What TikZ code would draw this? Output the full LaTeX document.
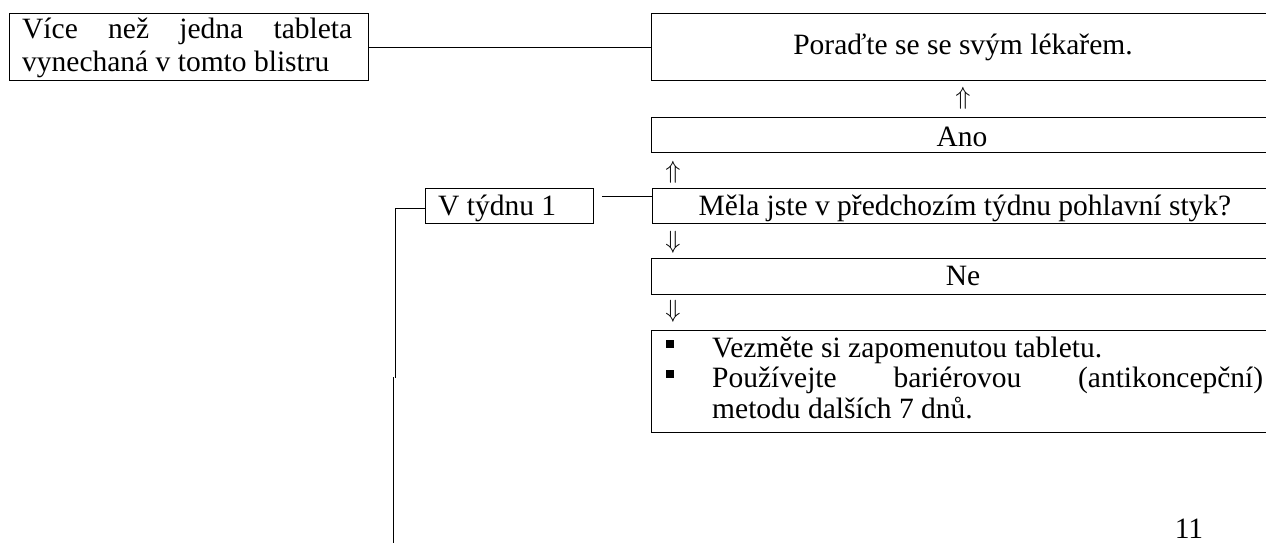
\documentclass[tikz,border=0pt]{standalone}
\usepackage{fontspec}
\setmainfont{Liberation Serif}
\begin{document}
\begin{tikzpicture}[x=1pt,y=-1pt,
  box/.style={draw, line width=1.3pt, anchor=north west, inner sep=0pt},
  txt/.style={anchor=base, inner sep=0pt, font=\fontsize{29.5}{32}\selectfont},
  arr/.style={anchor=center, inner sep=0pt, font=\fontsize{27}{29}\selectfont},
  conn/.style={line width=1pt},
  sq/.style={fill, minimum size=7.5pt, inner sep=0pt}]
\clip (0,0) rectangle (1266,542);
% boxes
\node[box, minimum width=359pt, minimum height=67pt] (b1) at (9,13) {};
\node[box, minimum width=660pt, minimum height=67pt] (poradBox) at (651,13) {};
\node[box, minimum width=660pt, minimum height=35pt] (anoBox) at (651,117) {};
\node[box, minimum width=660pt, minimum height=35pt] (qBox) at (652,188) {};
\node[box, minimum width=168pt, minimum height=35pt] (vBox) at (425,188) {};
\node[box, minimum width=660pt, minimum height=36pt] (neBox) at (651,258) {};
\node[box, minimum width=660pt, minimum height=102pt] (listBox) at (651,330) {};
% texts
\node[txt, anchor=base west] (t1a) at (22,38) {\makebox[330pt][s]{Více než jedna tableta}};
\node[txt, anchor=base west] (t1b) at (22,71) {vynechaná v tomto blistru};
\node[txt] (tPorad) at (963,54) {Poraďte se se svým lékařem.};
\node[arr] (up1) at (963,98) {$\Uparrow$};
\node[txt] (tAno) at (962,146) {Ano};
\node[arr] (up2) at (673,172) {$\Uparrow$};
\node[txt] (tQ) at (965,215) {Měla jste v předchozím týdnu pohlavní styk?};
\node[txt, anchor=base west] (tV) at (438,215) {V týdnu 1};
\node[arr] (down1) at (673,242) {$\Downarrow$};
\node[txt] (tNe) at (963,285) {Ne};
\node[arr] (down2) at (673,311) {$\Downarrow$};
\node[txt, anchor=base west] (l1) at (712,357) {Vezměte si zapomenutou tabletu.};
\node[txt, anchor=base west] (l2) at (712,387) {\makebox[551pt][s]{Používejte bariérovou (antikoncepční)}};
\node[txt, anchor=base west] (l3) at (712,418) {metodu dalších 7 dnů.};
\node[sq] (s1) at (670,344) {};
\node[sq] (s2) at (670,374) {};
\node[txt] (page) at (1189,538) {11};
% connectors
\draw[conn] (b1.east) -- (b1.east -| poradBox.west);
\coordinate (vq) at (602,196);
\draw[conn] (vq) -- (vq -| qBox.west);
\coordinate (corner) at (395,208);
\coordinate (mid) at (395,378);
\coordinate (midb) at (393,377);
\coordinate (bot) at (393,550);
\draw[conn] (vBox.west |- corner) -- (corner) -- (mid);
\draw[line width=0.9pt] (midb) -- (bot);
\end{tikzpicture}
\end{document}
